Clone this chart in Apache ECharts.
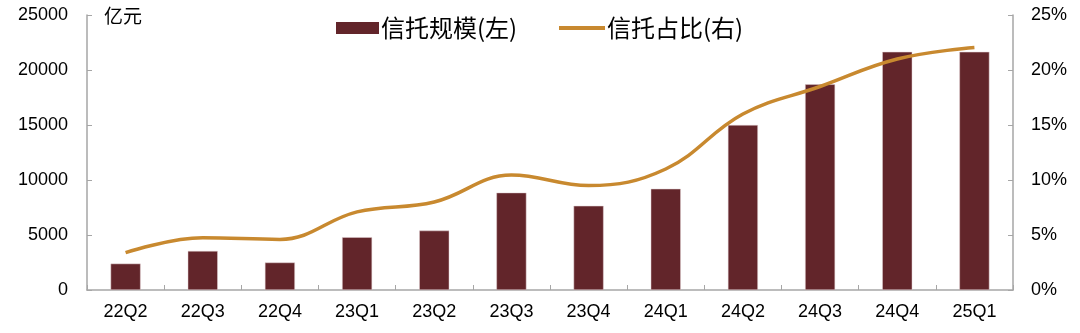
<!DOCTYPE html>
<html>
<head>
<meta charset="utf-8">
<script src="https://cdn.jsdelivr.net/npm/echarts@6/dist/echarts.min.js"></script>
<style>
html,body{margin:0;padding:0;background:#fff;}
#c{width:1080px;height:333px;}
</style>
</head>
<body>
<div id="c"></div>
<script>
const categories = ['22Q2','22Q3','22Q4','23Q1','23Q2','23Q3','23Q4','24Q1','24Q2','24Q3','24Q4','25Q1'];
const trustScale = [2400, 3550, 2500, 4800, 5400, 8850, 7650, 9200, 15000, 18700, 21650, 21650];
const trustRatio = [3.4, 4.75, 4.6, 7.1, 8.0, 10.45, 9.5, 11.0, 16.0, 18.5, 21.0, 22.05];
const leftTicks = [0, 5000, 10000, 15000, 20000, 25000];
const rightTicks = [0, 5, 10, 15, 20, 25];
const unitLabel = '亿元';
const seriesNames = ['信托规模(左)', '信托占比(右)'];

const chart = echarts.init(document.getElementById('c'), null, {renderer: 'canvas'});
const font = '"Liberation Sans", Arial, sans-serif';
const cjk = '"Noto Sans CJK SC", "Liberation Sans", sans-serif';
const axisColor = '#a6a6a6';
const lineColor = '#C8892F';
const barColor = '#62252A';
const legendText = {fontFamily: cjk, fontSize: 24, color: '#000', padding: [0,0,0,-3]};
chart.setOption({
  animation: false,
  backgroundColor: '#fff',
  grid: {left: 87, right: 67, top: 15, bottom: 43, containLabel: false},
  legend: [{
    top: 11, left: 331,
    itemWidth: 43, itemHeight: 12,
    textStyle: legendText,
    data: [{name: seriesNames[0], icon: 'rect', itemStyle: {color: barColor, borderWidth: 0}}]
  }, {
    top: 11, left: 554,
    itemWidth: 46, itemHeight: 4,
    textStyle: legendText,
    data: [{name: seriesNames[1], icon: 'rect', itemStyle: {color: lineColor, borderWidth: 0}}]
  }],
  graphic: [{
    type: 'text', left: 104, top: 6,
    style: {text: unitLabel, font: '19px ' + cjk, fill: '#000'}
  }],
  xAxis: {
    type: 'category',
    data: categories,
    axisLine: {lineStyle: {color: axisColor, width: 1.5}},
    axisTick: {show: true, inside: true, length: 5, lineStyle: {color: axisColor}},
    axisLabel: {fontFamily: font, fontSize: 18, color: '#000', margin: 13}
  },
  yAxis: [{
    type: 'value', min: leftTicks[0], max: leftTicks[leftTicks.length-1], interval: 5000,
    axisLine: {show: true, lineStyle: {color: axisColor, width: 1.5}},
    axisTick: {show: true, inside: true, length: 5, lineStyle: {color: axisColor}},
    splitLine: {show: false},
    axisLabel: {fontFamily: font, fontSize: 18, color: '#000', margin: 19, formatter: v => String(v)}
  }, {
    type: 'value', min: rightTicks[0], max: rightTicks[rightTicks.length-1], interval: 5,
    position: 'right',
    axisLine: {show: true, lineStyle: {color: axisColor, width: 1.5}},
    axisTick: {show: true, inside: true, length: 5, lineStyle: {color: axisColor}},
    splitLine: {show: false},
    axisLabel: {fontFamily: font, fontSize: 18, color: '#000', margin: 18, formatter: v => v + '%'}
  }],
  series: [{
    name: seriesNames[0],
    type: 'bar',
    data: trustScale,
    barWidth: 30,
    itemStyle: {color: barColor, borderColor: '#e0cfd0', borderWidth: 0.5},
    yAxisIndex: 0
  }, {
    name: seriesNames[1],
    type: 'line',
    data: trustRatio,
    yAxisIndex: 1,
    smooth: 0.4,
    showSymbol: false,
    symbol: 'none',
    lineStyle: {color: lineColor, width: 3.5},
    itemStyle: {color: lineColor}
  }]
});
</script>
</body>
</html>
